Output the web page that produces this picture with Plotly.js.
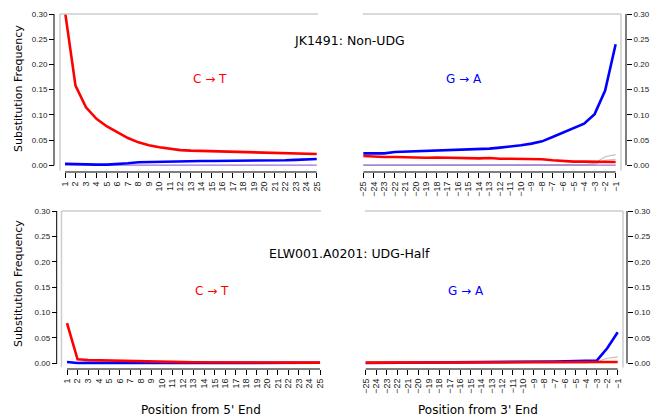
<!DOCTYPE html>
<html>
<head>
<meta charset="utf-8">
<script src="https://cdn.plot.ly/plotly-3.0.1.min.js"></script>
<style>html,body{margin:0;padding:0;background:#fff;}#chart{width:654px;height:420px;}</style>
</head>
<body>
<div id="chart"></div>
<script>
// ---- data ----
const pos5 = [1,2,3,4,5,6,7,8,9,10,11,12,13,14,15,16,17,18,19,20,21,22,23,24,25];
const pos3 = [-25,-24,-23,-22,-21,-20,-19,-18,-17,-16,-15,-14,-13,-12,-11,-10,-9,-8,-7,-6,-5,-4,-3,-2,-1];
const yTicks = [0, 0.05, 0.10, 0.15, 0.20, 0.25, 0.30];

// JK1491: Non-UDG
const ctTop5 = [0.305,0.158,0.115,0.092,0.077,0.065,0.054,0.0455,0.0396,0.0356,0.033,0.030,0.029,0.0284,0.027,0.027,0.0264,0.0264,0.025,0.0244,0.0244,0.0237,0.023,0.023,0.0224];
const gaTop5 = [0.003,0.002,0.0013,0.0013,0.0013,0.002,0.004,0.006,0.0066,0.007,0.0079,0.0079,0.0079,0.0086,0.0086,0.0086,0.0088,0.0088,0.009,0.0092,0.0095,0.0100,0.0108,0.0117,0.0125];
const insTop5 = [0.0003,0.0003,0.0003,0.0003,0.0003,0.0003,0.0003,0.0003,0.0003,0.0003,0.0003,0.0003,0.0003,0.0003,0.0003,0.0003,0.0003,0.0003,0.0003,0.0003,0.0003,0.0003,0.0003,0.0003,0.0003];
const gaTop3 = [0.0237,0.0244,0.0237,0.0264,0.027,0.0277,0.0284,0.029,0.0297,0.0303,0.0316,0.0323,0.033,0.035,0.037,0.0396,0.043,0.0475,0.056,0.065,0.0725,0.0824,0.1015,0.148,0.240];
const ctTop3 = [0.0185,0.017,0.0165,0.0165,0.0158,0.0158,0.015,0.0155,0.015,0.0145,0.0138,0.0138,0.0145,0.013,0.013,0.0125,0.012,0.012,0.010,0.008,0.0073,0.0073,0.0073,0.0073,0.0066];
const otherTop3a = [0,0,0,0,0,0,0,0,0,0,0,0,0,0,0,0,0,0,0,0,0,0.001,0.004,0.017,0.021];
const otherTop3b = [0,0,0,0,0,0,0,0,0,0,0,0,0,0,0,0,0,0,0,0,0,0.001,0.002,0.010,0.012];
const insTop3 = [0.0003,0.0003,0.0003,0.0003,0.0003,0.0003,0.0003,0.0003,0.0003,0.0003,0.0003,0.0003,0.0003,0.0003,0.0003,0.0003,0.0003,0.0003,0.0003,0.0003,0.0003,0.0003,0.0003,0.0003,0.0003];

// ELW001.A0201: UDG-Half
const ctBot5 = [0.079,0.0079,0.0066,0.006,0.0053,0.0046,0.004,0.004,0.0033,0.0026,0.0026,0.0024,0.0022,0.002,0.002,0.0018,0.0017,0.0016,0.0015,0.0015,0.0014,0.0014,0.0013,0.0013,0.0013];
const gaBot5 = [0.0026,0.0007,0.0008,0.0008,0.0008,0.0009,0.0009,0.0009,0.001,0.001,0.001,0.001,0.001,0.001,0.001,0.001,0.001,0.001,0.001,0.001,0.001,0.001,0.001,0.001,0.001];
const gaBot3 = [0.0007,0.0008,0.0009,0.001,0.001,0.0011,0.0012,0.0013,0.0014,0.0015,0.0016,0.0018,0.002,0.0022,0.0024,0.0026,0.003,0.0033,0.0036,0.004,0.0046,0.005,0.0053,0.0297,0.0613];
const ctBot3 = [0.0013,0.0013,0.0014,0.0014,0.0014,0.0015,0.0015,0.0015,0.0015,0.0016,0.0016,0.0016,0.0017,0.0017,0.0017,0.0018,0.0018,0.0018,0.0019,0.002,0.002,0.002,0.0021,0.0022,0.0026];
const otherBot3 = [0,0,0,0,0,0,0,0,0,0,0,0,0,0,0,0,0,0,0,0,0,0.001,0.003,0.010,0.0125];

const titles = ["JK1491: Non-UDG", "ELW001.A0201: UDG-Half"];
const ctLabel = "C \u2192 T", gaLabel = "G \u2192 A";
const yTitle = "Substitution Frequency";
const xTitle5 = "Position from 5' End", xTitle3 = "Position from 3' End";

// ---- layout helpers ----
const W = 654, H = 420;
const px = x => x / W;
const py = y => 1 - y / H;
const RED = '#ff0000', BLUE = '#0000ff', GRAY = '#c0c0c0', PURPLE = '#9b6fd6', BOX = '#cccccc';

function line(x, y, color, xa, ya, w) {
  return {x: x, y: y, type: 'scatter', mode: 'lines', xaxis: xa, yaxis: ya,
          line: {color: color, width: w || 2.6}, hoverinfo: 'skip', showlegend: false};
}

const data = [
  line(pos5, insTop5, PURPLE, 'x', 'y', 1.2),
  line(pos5, gaTop5, BLUE, 'x', 'y'),
  line(pos5, ctTop5, RED, 'x', 'y'),
  line(pos3, otherTop3a, GRAY, 'x2', 'y2', 1.2),
  line(pos3, otherTop3b, GRAY, 'x2', 'y2', 1.2),
  line(pos3, insTop3, PURPLE, 'x2', 'y2', 1.2),
  line(pos3, ctTop3, RED, 'x2', 'y2'),
  line(pos3, gaTop3, BLUE, 'x2', 'y2'),
  line(pos5, gaBot5, BLUE, 'x3', 'y3'),
  line(pos5, ctBot5, RED, 'x3', 'y3'),
  line(pos3, otherBot3, GRAY, 'x4', 'y4', 1.2),
  line(pos3, gaBot3, BLUE, 'x4', 'y4'),
  line(pos3, ctBot3, RED, 'x4', 'y4'),
];

const tickFont = {family: 'Liberation Sans, Arial, sans-serif', size: 8, color: '#222'};
const xTickFont = {family: 'Liberation Sans, Arial, sans-serif', size: 9, color: '#222'};

function xax(domain, range, anchor, vals) {
  return {domain: domain, range: range, anchor: anchor, showgrid: false, zeroline: false,
          showline: false, ticks: 'outside', ticklen: 5, tickwidth: 1, tickcolor: '#000',
          tickvals: vals, tickangle: -90, tickfont: xTickFont, fixedrange: true};
}
function yax(domain, range, pos, side) {
  return {domain: domain, range: range, anchor: 'free', position: pos, side: side,
          showgrid: false, zeroline: false, showline: false, ticks: 'outside', ticklen: 5,
          tickwidth: 1, tickcolor: '#000', tickvals: yTicks, tickformat: '.2f',
          tickfont: tickFont, fixedrange: true};
}

const yTopDom = [py(172), py(14)], yBotDom = [py(369), py(211)];
const yTopRange = [-0.0133, 0.30], yBotRange = [-0.0112, 0.30];

const shapes = [];
function axisShapes(xa, ya, x0, x1, yPos, leftBox) {
  shapes.push({type: 'line', xref: xa, yref: ya + ' domain', x0: x0, x1: x1, y0: 0, y1: 0,
               line: {color: '#000', width: 1}});
  shapes.push({type: 'line', xref: 'paper', yref: ya, x0: yPos, x1: yPos, y0: 0, y1: 0.30,
               line: {color: '#000', width: 1}});
  shapes.push({type: 'line', xref: xa + ' domain', yref: ya + ' domain', x0: 0, x1: 1, y0: 1, y1: 1,
               line: {color: BOX, width: 1.5}});
  const sx = leftBox ? 0 : 1;
  shapes.push({type: 'line', xref: xa + ' domain', yref: ya + ' domain', x0: sx, x1: sx, y0: 0.01, y1: 1,
               line: {color: BOX, width: 1.5}});
}
axisShapes('x', 'y', 1, 25, px(54), true);
axisShapes('x2', 'y2', -25, -1, px(626), false);
axisShapes('x3', 'y3', 1, 25, px(56.7), true);
axisShapes('x4', 'y4', -25, -1, px(627), false);

const txtFont = {family: 'DejaVu Sans, sans-serif', size: 12, color: '#000'};
function ann(text, x, y, font, angle) {
  return {text: text, x: px(x), y: py(y), xref: 'paper', yref: 'paper', showarrow: false,
          xanchor: 'center', yanchor: 'middle', font: font, textangle: angle || 0};
}
const annotations = [
  ann(titles[0], 349, 40, {family: 'DejaVu Sans, sans-serif', size: 12.5, color: '#000'}),
  ann(titles[1], 349, 254, {family: 'DejaVu Sans, sans-serif', size: 12.5, color: '#000'}),
  ann(ctLabel, 210, 79, {family: 'DejaVu Sans, sans-serif', size: 12, color: RED}),
  ann(gaLabel, 464, 79, {family: 'DejaVu Sans, sans-serif', size: 12, color: BLUE}),
  ann(ctLabel, 211.5, 291, {family: 'DejaVu Sans, sans-serif', size: 12, color: RED}),
  ann(gaLabel, 466, 291, {family: 'DejaVu Sans, sans-serif', size: 12, color: BLUE}),
  ann(yTitle, 18, 89, {family: 'DejaVu Sans, sans-serif', size: 11, color: '#000'}, -90),
  ann(yTitle, 18, 284, {family: 'DejaVu Sans, sans-serif', size: 11, color: '#000'}, -90),
  ann(xTitle5, 201, 410, txtFont),
  ann(xTitle3, 478, 410, txtFont),
];

const layout = {
  width: W, height: H, margin: {l: 0, r: 0, t: 0, b: 0},
  paper_bgcolor: '#fff', plot_bgcolor: 'rgba(0,0,0,0)', showlegend: false,
  xaxis: xax([px(60), px(318)], [0.523, 25.12], 'y', pos5),
  yaxis: yax(yTopDom, yTopRange, px(54), 'left'),
  xaxis2: xax([px(362.7), px(621)], [-25.06, -0.49], 'y2', pos3),
  yaxis2: yax(yTopDom, yTopRange, px(626), 'right'),
  xaxis3: xax([px(61.5), px(321)], [0.478, 25.09], 'y3', pos5),
  yaxis3: yax(yBotDom, yBotRange, px(56.7), 'left'),
  xaxis4: xax([px(365), px(623)], [-25.067, -0.495], 'y4', pos3),
  yaxis4: yax(yBotDom, yBotRange, px(627), 'right'),
  shapes: shapes, annotations: annotations,
};

Plotly.newPlot('chart', data, layout, {staticPlot: true, displayModeBar: false});
</script>
</body>
</html>
